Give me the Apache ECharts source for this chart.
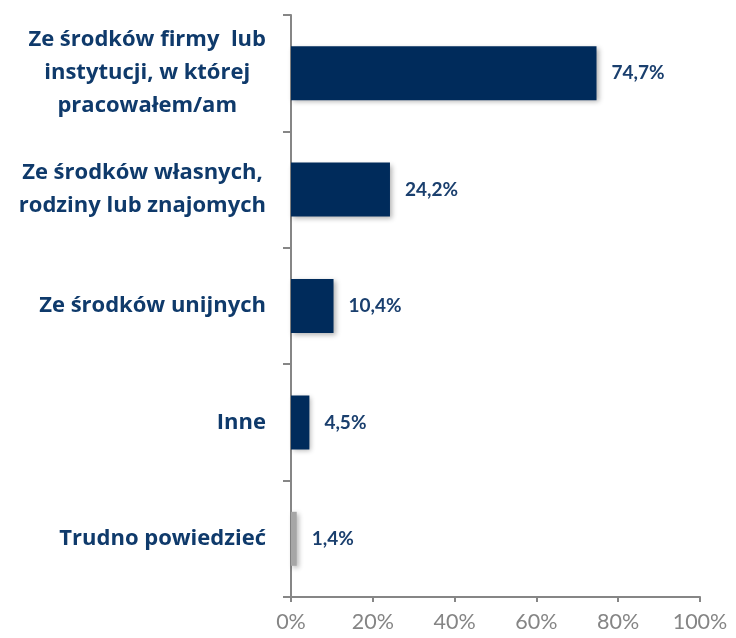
<!DOCTYPE html>
<html>
<head>
<meta charset="utf-8">
<style>
  html, body { margin: 0; padding: 0; background: #ffffff; }
  #chart { width: 736px; height: 638px; }
</style>
</head>
<body>
<div id="chart"></div>
<script src="https://cdn.jsdelivr.net/npm/echarts@6/dist/echarts.min.js"></script>
<script>
  var categories = [
    'Ze środków firmy  lub\ninstytucji, w której\npracowałem/am',
    'Ze środków własnych,\nrodziny lub znajomych',
    'Ze środków unijnych',
    'Inne',
    'Trudno powiedzieć'
  ];
  var values = [74.7, 24.2, 10.4, 4.5, 1.4];
  var barColors = ['#002b5b', '#002b5b', '#002b5b', '#002b5b', '#a6a6a6'];
  var xTicks = [0, 20, 40, 60, 80, 100];

  var chart = echarts.init(document.getElementById('chart'));

  var font = 'Lato, "Noto Sans", sans-serif';
  var catFont = '"Open Sans", Lato, sans-serif';

  var option = {
    animation: false,
    grid: { left: 291, right: 36, top: 15, bottom: 41 },
    xAxis: {
      type: 'value',
      min: xTicks[0],
      max: xTicks[xTicks.length - 1],
      interval: 20,
      axisLine: { show: true, lineStyle: { color: '#868686', width: 2 } },
      axisTick: { show: true, length: 5, lineStyle: { color: '#868686', width: 2 } },
      splitLine: { show: false },
      axisLabel: {
        margin: 14,
        color: '#858585',
        fontFamily: font,
        fontSize: 21.5,
        formatter: function (v) { return v + '%'; }
      }
    },
    yAxis: {
      type: 'category',
      inverse: true,
      data: categories,
      axisLine: { show: true, lineStyle: { color: '#868686', width: 2 } },
      axisTick: { show: true, length: 8, lineStyle: { color: '#868686', width: 2 } },
      axisLabel: {
        margin: 25,
        align: 'right',
        formatter: function (v) {
          return v.split('\n').map(function (l) { return '{c|' + l + '}'; }).join('\n');
        },
        rich: {
          c: {
            align: 'center',
            color: '#0f3a6b',
            fontFamily: catFont,
            fontWeight: 'bold',
            fontSize: 22,
            lineHeight: 33
          }
        }
      }
    },
    series: [{
      type: 'bar',
      data: values.map(function (v, i) {
        return { value: v, itemStyle: { color: barColors[i] } };
      }),
      barWidth: 54,
      itemStyle: {
        shadowColor: 'rgba(0,0,0,0.3)',
        shadowBlur: 5,
        shadowOffsetX: 2,
        shadowOffsetY: 2
      },
      label: {
        show: true,
        position: 'right',
        distance: 15,
        color: '#1a3f6e',
        fontFamily: font,
        fontWeight: 'bold',
        fontSize: 19,
        formatter: function (p) { return p.value.toFixed(1).replace('.', ',') + '%'; }
      }
    }]
  };

  chart.setOption(option);
</script>
</body>
</html>
